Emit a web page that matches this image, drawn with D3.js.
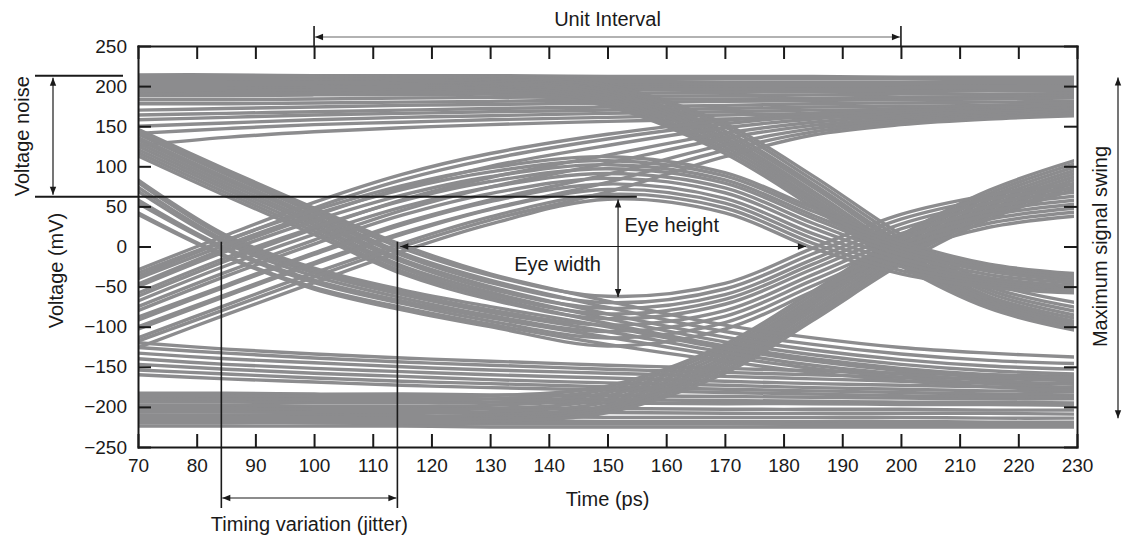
<!DOCTYPE html>
<html><head><meta charset="utf-8">
<script src="https://cdn.jsdelivr.net/npm/d3@7"></script>
<style>
html,body{margin:0;padding:0;background:#fff;}
svg{display:block;font-family:"Liberation Sans",Arial,Helvetica,sans-serif;}
</style></head><body>
<svg id="chart" width="1124" height="538"></svg>
<script>
// ---- data ----
const timeSamples = [70, 85, 100, 115, 130, 150, 170, 185, 200, 215, 230];
const xTickValues = [70, 80, 90, 100, 110, 120, 130, 140, 150, 160, 170, 180, 190, 200, 210, 220, 230];
const yTickValues = [-250, -200, -150, -100, -50, 0, 50, 100, 150, 200, 250];

// steady high (1-1-1)
const highSteady = [
  [214,214,213,213,213,212,212,212,211,211,211],
  [211,211,210,210,210,209,209,209,209,208,208],
  [207,207,207,206,206,206,205,205,205,205,205],
  [204,204,204,204,204,204,204,203,203,203,203],
  [200,200,200,201,201,201,202,202,202,202,202],
  [196,196,197,197,198,198,199,199,199,200,200],
  [192,192,193,193,194,195,196,196,197,197,197],
  [188,188,189,189,190,191,192,193,193,194,194],
  [183,183,184,185,186,187,188,189,190,190,191],
  [178,178,179,180,181,183,184,185,186,187,188]
];
// high, still settling after an earlier rise
const highSettling = [
  [170,172,174,176,177,179,181,182,183,184,185],
  [164,166,168,170,172,174,176,178,179,180,181],
  [158,161,164,166,168,170,172,174,175,176,177],
  [150,154,158,161,163,166,168,170,171,172,173],
  [141,147,152,155,158,161,164,166,167,168,169],
  [126,136,143,148,152,156,159,161,163,164,165]
];
// high then falling at the second crossing (1-1-0)
const highToLow = [
  [213,213,213,212,211,201,153,88,15,-45,-70],
  [211,211,211,210,209,198,149,83,10,-50,-76],
  [209,209,209,208,207,195,144,78,5,-54,-81],
  [207,207,207,206,205,193,140,74,1,-58,-86],
  [205,205,205,204,203,190,136,69,-4,-62,-90],
  [202,202,202,202,200,187,132,65,-8,-65,-94],
  [200,200,200,200,198,184,128,61,-12,-68,-97],
  [197,197,198,198,196,181,124,57,-16,-71,-100],
  [194,194,195,195,193,178,120,53,-20,-74,-103],
  [190,191,191,192,190,175,116,49,-24,-77,-105]
];
// steady low (0-0-0)
const lowSteady = [
  [-183,-183,-184,-184,-185,-186,-187,-188,-189,-190,-190],
  [-188,-188,-189,-189,-190,-191,-192,-193,-194,-194,-195],
  [-193,-193,-193,-194,-194,-195,-196,-196,-197,-197,-198],
  [-201,-201,-201,-202,-202,-202,-203,-203,-203,-204,-204],
  [-206,-206,-206,-207,-207,-207,-208,-208,-208,-208,-209],
  [-211,-211,-212,-212,-212,-213,-213,-213,-213,-214,-214],
  [-216,-216,-217,-217,-217,-218,-218,-218,-218,-219,-219],
  [-220,-220,-220,-221,-221,-221,-221,-222,-222,-222,-222],
  [-224,-224,-224,-224,-225,-225,-225,-225,-225,-225,-225]
];
// low, still settling after an earlier fall
const lowSettling = [
  [-120,-128,-134,-139,-143,-148,-152,-155,-158,-160,-162],
  [-126,-133,-139,-144,-148,-153,-157,-160,-163,-165,-166],
  [-133,-140,-145,-150,-154,-158,-162,-165,-168,-170,-171],
  [-140,-147,-152,-156,-160,-164,-168,-171,-173,-175,-176],
  [-147,-153,-158,-162,-166,-170,-173,-176,-178,-180,-181],
  [-154,-159,-164,-168,-171,-175,-178,-180,-182,-184,-185],
  [-160,-165,-169,-173,-176,-179,-182,-184,-186,-187,-188]
];
// low then rising at the second crossing (0-0-1)
const lowToHigh = [
  [-186,-186,-187,-187,-186,-174,-122,-56,14,70,108],
  [-190,-190,-191,-191,-190,-178,-126,-60,10,66,104],
  [-194,-194,-195,-195,-194,-182,-130,-64,6,62,100],
  [-198,-198,-199,-199,-198,-186,-134,-68,2,58,96],
  [-202,-202,-203,-203,-202,-190,-138,-72,-2,54,92],
  [-206,-206,-207,-207,-206,-194,-142,-76,-6,50,88],
  [-210,-210,-210,-211,-210,-198,-146,-80,-10,46,84],
  [-213,-213,-213,-214,-213,-201,-150,-84,-14,42,80],
  [-216,-216,-216,-216,-215,-204,-154,-88,-18,38,76],
  [-219,-219,-219,-219,-218,-207,-158,-92,-22,34,72]
];
// falling at the first crossing, then staying low (1-0-0)
const fallThenLow = [
  [146,96,48,2,-34,-68,-98,-114,-126,-133,-138],
  [140,90,42,-8,-42,-76,-106,-122,-134,-142,-146],
  [133,83,35,-16,-50,-84,-113,-129,-141,-149,-153],
  [125,75,27,-24,-57,-90,-119,-135,-147,-155,-159],
  [117,67,19,-31,-63,-96,-124,-140,-152,-160,-164],
  [83,14,-27,-54,-75,-100,-127,-143,-155,-163,-168],
  [74,7,-33,-60,-82,-106,-132,-148,-159,-167,-172],
  [58,-2,-42,-68,-89,-113,-137,-152,-163,-171,-176],
  [42,-12,-51,-76,-97,-122,-143,-157,-167,-175,-180]
];
// falling at the first crossing, rising at the second (1-0-1)
const fallThenHigh = [
  [143,93,45,-2,-36,-62,-46,-2,40,64,78],
  [136,86,38,-11,-45,-70,-53,-9,34,59,73],
  [129,79,31,-19,-53,-77,-60,-16,28,54,68],
  [121,71,23,-27,-60,-84,-66,-22,22,49,63],
  [113,63,15,-34,-66,-90,-72,-28,16,44,58],
  [80,11,-30,-57,-79,-98,-80,-35,10,39,53],
  [69,4,-37,-64,-86,-106,-87,-42,4,34,48],
  [54,-4,-45,-71,-93,-114,-95,-49,-2,29,43],
  [40,-13,-53,-79,-100,-124,-103,-56,-8,24,38]
];
// rising at the first crossing, staying high (0-1-1)
const riseThenHigh = [
  [-29,14,55,90,116,140,157,166,172,176,179],
  [-37,7,48,83,109,134,153,163,169,173,176],
  [-47,-2,38,73,100,126,148,159,166,170,173],
  [-62,-18,22,58,86,114,141,155,163,168,171],
  [-75,-32,8,45,74,104,135,151,160,165,169],
  [-88,-48,-8,29,58,90,127,147,157,163,167],
  [-100,-60,-20,17,47,80,120,143,155,161,165],
  [-118,-78,-38,0,33,68,112,139,152,159,163]
];
// rising at the first crossing, falling at the second (0-1-0)
const riseThenLow = [
  [-33,8,45,76,98,112,92,48,6,-22,-34],
  [-40,2,40,71,93,107,88,44,2,-25,-37],
  [-50,-6,32,64,87,102,83,39,-2,-28,-40],
  [-58,-14,24,57,81,97,79,35,-6,-31,-43],
  [-68,-24,15,49,74,91,73,29,-10,-35,-46],
  [-80,-37,3,39,66,85,67,23,-15,-39,-49],
  [-92,-50,-10,27,56,78,60,16,-20,-42,-52],
  [-103,-62,-22,15,46,71,54,10,-25,-45,-54],
  [-114,-73,-33,4,37,65,48,4,-30,-48,-56],
  [-126,-85,-45,-6,28,59,42,-2,-34,-51,-58]
];

// ---- layout ----
const svg = d3.select("#chart");
const x = d3.scaleLinear().domain([70, 230]).range([138, 1077]);
const y = d3.scaleLinear().domain([-250, 250]).range([447, 46]);
const traceColor = "#8c8c8e";
const ink = "#1a1a1a";

const defs = svg.append("defs");
defs.append("clipPath").attr("id", "plotclip").append("rect")
  .attr("x", x(70)).attr("y", y(250))
  .attr("width", x(229.5) - x(70)).attr("height", y(-250) - y(250));
defs.append("marker").attr("id", "ah")
  .attr("viewBox", "0 0 10 10").attr("refX", 10).attr("refY", 5)
  .attr("markerWidth", 9).attr("markerHeight", 8)
  .attr("markerUnits", "userSpaceOnUse")
  .attr("orient", "auto-start-reverse")
  .append("path").attr("d", "M0,1 L10,5 L0,9 Z").attr("fill", ink);

// ---- traces ----
const line = d3.line()
  .x((d, i) => x(timeSamples[i]))
  .y(d => y(d))
  .curve(d3.curveCatmullRom.alpha(0.5));

const allTraces = [].concat(highSteady, highSettling, highToLow, lowSteady, lowSettling,
  lowToHigh, fallThenLow, fallThenHigh, riseThenHigh, riseThenLow);

svg.append("g").attr("clip-path", "url(#plotclip)")
  .selectAll("path").data(allTraces).join("path")
  .attr("d", line)
  .attr("fill", "none")
  .attr("stroke", traceColor)
  .attr("stroke-width", 3.4);

// ---- axes ----
function styleAxis(g) {
  g.select(".domain").attr("stroke", ink).attr("stroke-width", 2);
  g.selectAll(".tick line").attr("stroke", ink).attr("stroke-width", 2);
  g.selectAll(".tick text").attr("fill", ink).attr("font-size", 19)
    .attr("font-family", '"Liberation Sans",Arial,Helvetica,sans-serif');
}
svg.append("g").attr("transform", `translate(0,${y(-250)})`)
  .call(d3.axisBottom(x).tickValues(xTickValues).tickSize(-13).tickSizeOuter(0).tickPadding(12).tickFormat(d3.format("d")))
  .call(styleAxis);
svg.append("g").attr("transform", `translate(0,${y(250)})`)
  .call(d3.axisTop(x).tickValues(xTickValues).tickSize(-13).tickSizeOuter(0).tickFormat(""))
  .call(styleAxis);
svg.append("g").attr("transform", `translate(${x(70)},0)`)
  .call(d3.axisLeft(y).tickValues(yTickValues).tickSize(-13).tickSizeOuter(0).tickPadding(11))
  .call(styleAxis);
svg.append("g").attr("transform", `translate(${x(230)},0)`)
  .call(d3.axisRight(y).tickValues(yTickValues).tickSize(-13).tickSizeOuter(0).tickFormat(""))
  .call(styleAxis);
svg.selectAll(".domain").attr("stroke-linecap", "square");

// ---- annotations ----
const ann = svg.append("g").attr("font-size", 20).attr("fill", ink);
function arrow(x1, y1, x2, y2, color) {
  ann.append("line").attr("x1", x1).attr("y1", y1).attr("x2", x2).attr("y2", y2)
    .attr("stroke", color || ink).attr("stroke-width", 1.2)
    .attr("marker-start", "url(#ah)").attr("marker-end", "url(#ah)");
}
function rule(x1, y1, x2, y2, w) {
  ann.append("line").attr("x1", x1).attr("y1", y1).attr("x2", x2).attr("y2", y2)
    .attr("stroke", ink).attr("stroke-width", w || 2);
}

// Unit interval
rule(x(100), 26, x(100), y(250), 1.6);
rule(x(200), 26, x(200), y(250), 1.6);
arrow(x(100) + 1, 37, x(200) - 1, 37, "#666");
ann.append("text").attr("x", (x(100) + x(200)) / 2).attr("y", 25.5)
  .attr("text-anchor", "middle").text("Unit Interval");

// Voltage noise
rule(35, y(213), 123, y(213), 2);
rule(35, y(62), x(155), y(62), 2);
arrow(53, y(213) + 2, 53, y(62) - 2);
ann.append("text").attr("transform", `translate(29,${(y(213) + y(62)) / 2}) rotate(-90)`)
  .attr("text-anchor", "middle").text("Voltage noise");

// axis titles
ann.append("text").attr("transform", `translate(63,${y(-30)}) rotate(-90)`)
  .attr("text-anchor", "middle").text("Voltage (mV)");
ann.append("text").attr("x", x(150)).attr("y", 506)
  .attr("text-anchor", "middle").text("Time (ps)");

// Eye height
arrow(x(151.8), y(60) + 1, x(151.8), y(-63));
ann.append("text").attr("x", x(152.9)).attr("y", 232).text("Eye height");

// Eye width
arrow(x(114.7), y(0), x(183.8), y(0));
ann.append("text").attr("x", x(141.5)).attr("y", 271)
  .attr("text-anchor", "middle").text("Eye width");

// Jitter
rule(x(84.2), y(6), x(84.2), 508, 1.6);
rule(x(114.2), y(6), x(114.2), 508, 1.6);
arrow(x(84.2) + 1, 498, x(114.2) - 1, 498);
ann.append("text").attr("x", (x(84.2) + x(114.2)) / 2).attr("y", 531)
  .attr("text-anchor", "middle").text("Timing variation (jitter)");

// Maximum signal swing
arrow(1118, y(210.6), 1118, y(-214));
ann.append("text").attr("transform", `translate(1107,${y(0)}) rotate(-90)`)
  .attr("text-anchor", "middle").text("Maximum signal swing");
</script>
</body></html>
